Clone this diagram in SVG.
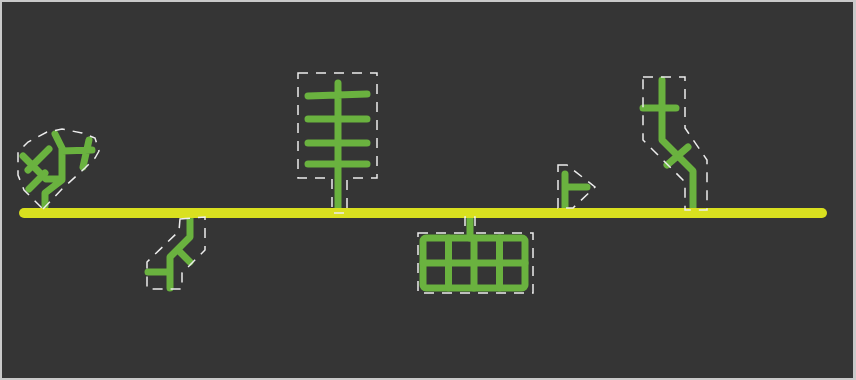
<svg xmlns="http://www.w3.org/2000/svg" width="856" height="380" viewBox="0 0 856 380">
<style>
.g{fill:none;stroke:#6ab23f;stroke-width:7;stroke-linecap:round;stroke-linejoin:round}
.h{fill:none;stroke:#ececec;stroke-width:1.5;stroke-dasharray:10 8}
</style>
<rect x="0" y="0" width="856" height="380" fill="#c9c9c9"/>
<rect x="2" y="2" width="851" height="376" fill="#353535"/>
<g id="node1">
<path class="g" d="M45,206 L45,193 L62,180 L62,148 L55,134 M62,179 L46,179 L23,156 M49,149 L28,170 M45,173 L29,189 M62,151 L92,150 M89,140 L83,167"/>
</g>
<g id="node2">
<path class="g" d="M190,214 L190,237 L170,257 L170,288 M148,272 L170,272 M178,250 L190,262"/>
</g>
<g id="node3">
<path class="g" d="M338,83 L338,210 M308,96 L367,94 M308,119 L367,119 M308,143 L367,143 M308,164 L367,164"/>
</g>
<g id="node4">
<path class="g" d="M470,212 L470,238"/>
<rect class="g" x="423" y="238" width="102" height="50" rx="3"/>
<path class="g" d="M448.5,238 L448.5,288 M474,238 L474,288 M499.5,238 L499.5,288 M423,263 L525,263"/>
</g>
<g id="node5">
<path class="g" d="M565,174 L565,208 M565,187 L587,187"/>
</g>
<g id="node6">
<path class="g" d="M662,80 L662,140 L693,171 L693,208 M643,108 L676,108 M688,147 L667,165"/>
</g>
<g id="connectors">
<line x1="24" y1="213" x2="822" y2="213" stroke="#d9e01f" stroke-width="10" stroke-linecap="round"/>
</g>
<g id="hulls">
<path class="h" d="M43,209 L62,189 L85,168 L95,158 L99,151 L95,138 L82,133 L62,129 L47,132 L28,142 L18,152 L18,175 L24,190 Z"/>
<path class="h" d="M180,219 L205,217 L205,250 L182,273 L182,289 L147,289 L147,262 L179,231 Z"/>
<path class="h" d="M298,73 L377,73 L377,178 L347,178 L347,213 L332,213 L332,178 L298,178 Z"/>
<path class="h" d="M418,233 L465,233 L465,217 L475,217 L475,233 L533,233 L533,293 L418,293 Z"/>
<path class="h" d="M558,165 L567,165 L595,187 L573,208 L558,208 Z"/>
<path class="h" d="M643,77 L685,77 L685,128 L707,160 L707,210 L685,210 L685,182 L643,140 Z"/>
</g>
</svg>
